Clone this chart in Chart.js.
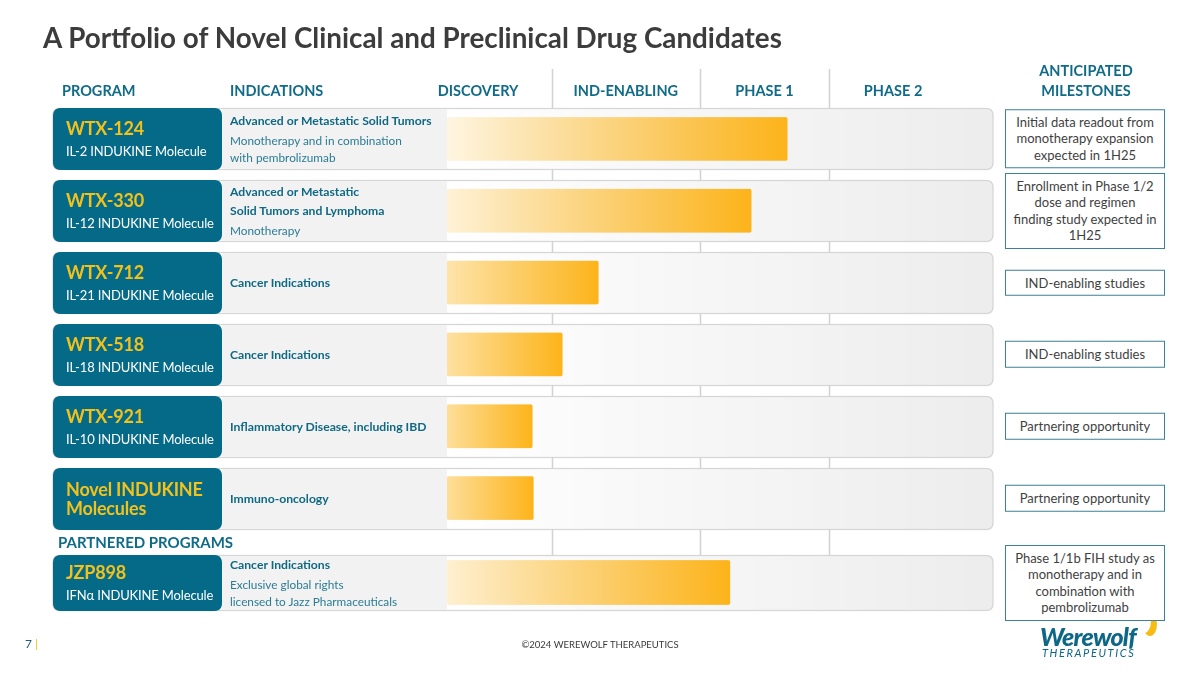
<!DOCTYPE html>
<html><head><meta charset="utf-8">
<script src="https://cdn.jsdelivr.net/npm/chart.js@4.4.1/dist/chart.umd.min.js"></script>
<style>
html,body{margin:0;padding:0;background:#fff;}
body{width:1200px;height:675px;position:relative;overflow:hidden;font-family:Lato,"Open Sans",sans-serif;}
canvas{position:absolute;left:0;top:0;}
.abs{position:absolute;white-space:nowrap;}
.title{left:43px;top:21px;font-size:27.8px;font-weight:700;color:#3C3C3C;}
.hdr{font-size:14.5px;font-weight:700;color:#106B88;line-height:20px;text-align:center;}
.prog{display:flex;flex-direction:column;justify-content:center;padding-left:13px;box-sizing:border-box;}
.pname{color:#F3C21A;font-weight:700;font-size:18px;letter-spacing:-0.2px;line-height:24px;}
.pname2{line-height:19px;}
.psub{color:#fff;font-size:13px;letter-spacing:-0.15px;line-height:22px;}
.ind{display:flex;flex-direction:column;justify-content:center;}
.indb{color:#0F6984;font-weight:700;font-size:12.2px;line-height:19px;}
.indr{color:#2B7C95;font-size:11.8px;line-height:17px;}
.indr.first{margin-top:2px;}
.mile{border:1.5px solid #3B8199;background:#fff;color:#3F3F3F;font-size:13px;line-height:16.5px;text-align:center;padding:4px 2px;box-sizing:border-box;width:160px;transform:translateY(-50%);}
</style></head><body>
<canvas id="c1" width="1200" height="675"></canvas>
<canvas id="c2" width="1200" height="675"></canvas>
<div id="ov"></div>
<script>
// ---- data ----
const stageLabels = ["DISCOVERY", "IND-ENABLING", "PHASE 1", "PHASE 2"];
const stageEdges = [-7.8, 19.2, 46.3, 70.0, 93.4];   // progress scale: 0 = start of discovery bar

const programs = ["WTX-124", "WTX-330", "WTX-712", "WTX-518", "WTX-921", "Novel INDUKINE|Molecules"];
const molecules = ["IL-2 INDUKINE Molecule", "IL-12 INDUKINE Molecule", "IL-21 INDUKINE Molecule",
                   "IL-18 INDUKINE Molecule", "IL-10 INDUKINE Molecule", ""];
const indications = ["Advanced or Metastatic Solid Tumors", "Advanced or Metastatic|Solid Tumors and Lymphoma",
                     "Cancer Indications", "Cancer Indications", "Inflammatory Disease, including IBD", "Immuno-oncology"];
const indicationNotes = ["Monotherapy and in combination|with pembrolizumab", "Monotherapy", "", "", "", ""];
const milestones = ["Initial data readout from|monotherapy expansion|expected in 1H25",
                    "Enrollment in Phase 1/2|dose and regimen|finding study expected in|1H25",
                    "IND-enabling studies", "IND-enabling studies",
                    "Partnering opportunity", "Partnering opportunity"];
const progress = [62.3, 55.7, 27.7, 21.1, 15.6, 15.8];

const partnerPrograms = ["JZP898"];
const partnerMolecules = ["IFNα INDUKINE Molecule"];
const partnerIndications = ["Cancer Indications"];
const partnerNotes = ["Exclusive global rights|licensed to Jazz Pharmaceuticals"];
const partnerMilestones = ["Phase 1/1b FIH study as|monotherapy and in|combination with|pembrolizumab"];
const partnerProgress = [51.8];

// ---- helpers ----
function rr(ctx, x, y, w, h, r) {
  ctx.beginPath();
  ctx.moveTo(x + r, y); ctx.lineTo(x + w - r, y); ctx.quadraticCurveTo(x + w, y, x + w, y + r);
  ctx.lineTo(x + w, y + h - r); ctx.quadraticCurveTo(x + w, y + h, x + w - r, y + h);
  ctx.lineTo(x + r, y + h); ctx.quadraticCurveTo(x, y + h, x, y + h - r);
  ctx.lineTo(x, y + r); ctx.quadraticCurveTo(x, y, x + r, y); ctx.closePath();
}
function barFill(c) {
  const chart = c.chart, xs = chart.scales && chart.scales.x;
  if (!xs || c.type !== 'data') return '#FDB61F';
  const x0 = xs.getPixelForValue(0), x1 = xs.getPixelForValue(c.raw);
  if (!isFinite(x0) || !isFinite(x1) || x1 <= x0) return '#FDB61F';
  const w = x1 - x0;
  const a0 = Math.max(0.13, Math.min(0.48, 0.56 - w / 800));
  const g = chart.ctx.createLinearGradient(x0, 0, x1, 0);
  g.addColorStop(0, 'rgba(253,183,30,' + a0 + ')');
  g.addColorStop(1, 'rgba(253,180,27,1)');
  return g;
}
function rowDecor(rowH, drawSeps) {
  return {
    id: 'rowDecor',
    beforeDatasetsDraw(chart) {
      const ctx = chart.ctx, ca = chart.chartArea, xs = chart.scales.x, ys = chart.scales.y;
      ctx.save();
      if (drawSeps) {
        ctx.strokeStyle = '#D2D2D2'; ctx.lineWidth = 1.5;
        stageEdges.slice(1, -1).forEach(v => {
          const x = Math.round(xs.getPixelForValue(v)) + 0.5;
          ctx.beginPath(); ctx.moveTo(x, 69); ctx.lineTo(x, 611); ctx.stroke();
        });
      }
      ys.ticks.forEach((t, i) => {
        const cy = ys.getPixelForValue(i), top = Math.round(cy - rowH / 2) + 0.5;
        const g = ctx.createLinearGradient(ca.left, 0, ca.right, 0);
        g.addColorStop(0, '#FFFFFF'); g.addColorStop(1, '#EDEDED');
        rr(ctx, 53, top, ca.right - 53, rowH, 7);
        ctx.fillStyle = g; ctx.fill();
        ctx.strokeStyle = '#D6D6D6'; ctx.lineWidth = 1.3; ctx.stroke();
        ctx.fillStyle = '#F2F2F2';
        ctx.fillRect(222, top + 1, ca.left - 222, rowH - 2);
        rr(ctx, 53, top - 0.5, 169, rowH + 1, 8);
        ctx.fillStyle = '#046A88'; ctx.fill();
      });
      ctx.restore();
    }
  };
}
function makeChart(id, labels, values, padTop, padBottom, rowH, barH, seps) {
  return new Chart(document.getElementById(id), {
    type: 'bar',
    data: { labels: labels, datasets: [{ data: values, backgroundColor: barFill, borderRadius: 2,
            borderSkipped: false, barThickness: barH }] },
    options: {
      indexAxis: 'y', responsive: false, animation: false, devicePixelRatio: 2,
      layout: { padding: { left: 447, right: 207, top: padTop, bottom: padBottom } },
      scales: { x: { min: 0, max: 100, display: false }, y: { display: false } },
      plugins: { legend: { display: false }, tooltip: { enabled: false } }
    },
    plugins: [rowDecor(rowH, seps)]
  });
}
const ch1 = makeChart('c1', programs, progress, 103, 141, 61, 43, true);
const ch2 = makeChart('c2', partnerPrograms, partnerProgress, 555, 65, 55, 44, false);

// ---- text overlays ----
const ov = document.getElementById('ov');
function add(cls, css, html) {
  const d = document.createElement('div'); d.className = 'abs ' + cls;
  Object.assign(d.style, css); d.innerHTML = html; ov.appendChild(d); return d;
}
const br = s => s.split('|').join('<br>');

// logo crescent first so the milestone box sits over it
add('', { left: '1137px', top: '609px', width: '14px', height: '24px', borderRadius: '50%', boxShadow: '6px 3px 0 0 #F6BC14' }, '');

add('title', {}, 'A Portfolio of Novel Clinical and Preclinical Drug Candidates');
add('hdr', { left: '62px', top: '81px', textAlign: 'left' }, 'PROGRAM');
add('hdr', { left: '230px', top: '81px', textAlign: 'left' }, 'INDICATIONS');
const xs1 = ch1.scales.x;
stageLabels.forEach((s, k) => {
  const cx = xs1.getPixelForValue((stageEdges[k] + stageEdges[k + 1]) / 2);
  add('hdr', { left: (cx - 70) + 'px', top: '81px', width: '140px' }, s);
});
add('hdr', { left: '1016px', top: '61px', width: '140px' }, 'ANTICIPATED<br>MILESTONES');

function rows(chart, names, mols, inds, notes, miles, rowH) {
  const ys = chart.scales.y;
  names.forEach((n, i) => {
    const cy = ys.getPixelForValue(i), top = Math.round(cy - rowH / 2);
    const two = n.indexOf('|') >= 0;
    add('prog', { left: '53px', top: top + 'px', width: '169px', height: rowH + 'px' },
      '<div class="pname' + (two ? ' pname2' : '') + '">' + br(n) + '</div>' +
      (mols[i] ? '<div class="psub">' + mols[i] + '</div>' : ''));
    let h = inds[i].split('|').map(s => '<div class="indb">' + s + '</div>').join('');
    if (notes[i]) h += notes[i].split('|').map((s, j) => '<div class="indr' + (j === 0 ? ' first' : '') + '">' + s + '</div>').join('');
    add('ind', { left: '230px', top: top + 'px', height: rowH + 'px' }, h);
    add('mile', { left: '1005px', top: cy + 'px' }, br(miles[i]));
  });
}
rows(ch1, programs, molecules, indications, indicationNotes, milestones, 61);
rows(ch2, partnerPrograms, partnerMolecules, partnerIndications, partnerNotes, partnerMilestones, 55);

add('hdr', { left: '58px', top: '532px', textAlign: 'left', fontSize: '15px' }, 'PARTNERED PROGRAMS');

// footer
add('', { left: '25px', top: '636px', fontSize: '12px', color: '#1E5D7E' }, '7 <span style="color:#F3C21A">|</span>');
add('', { left: '400px', width: '400px', textAlign: 'center', top: '639px', fontSize: '9.5px', color: '#3A3A3A' }, '©2024 WEREWOLF THERAPEUTICS');
add('', { left: '1040px', top: '621px', fontSize: '25px', fontWeight: '900', fontStyle: 'italic', color: '#0C6886', letterSpacing: '-0.8px' }, 'Werewolf');
add('', { left: '1042px', top: '646px', fontSize: '11px', fontStyle: 'italic', color: '#0C6886', letterSpacing: '1.6px' }, 'THERAPEUTICS');
</script>
</body></html>
